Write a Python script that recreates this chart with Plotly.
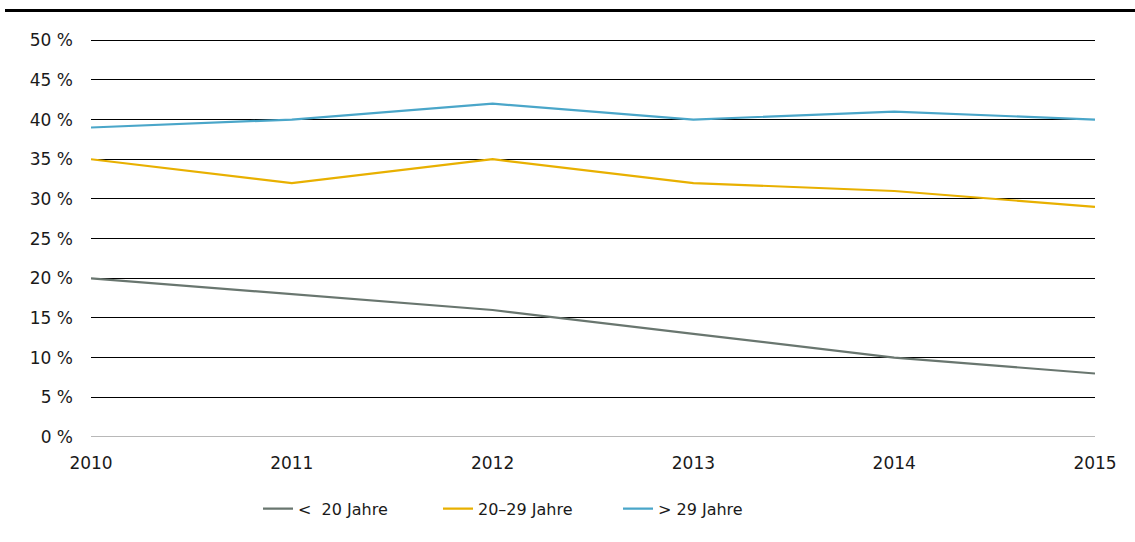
import plotly.graph_objects as go

years = [2010, 2011, 2012, 2013, 2014, 2015]
series_names = ["<  20 Jahre", "20–29 Jahre", "> 29 Jahre"]
under20 = [20, 18, 16, 13, 10, 8]
age20_29 = [35, 32, 35, 32, 31, 29]
over29 = [39, 40, 42, 40, 41, 40]
colors = ["#69766f", "#e8b000", "#4aa6c9"]
y_ticks = [0, 5, 10, 15, 20, 25, 30, 35, 40, 45, 50]
y_labels = [f"{v} %" for v in y_ticks]

fig = go.Figure()
for name, vals, col in zip(series_names, [under20, age20_29, over29], colors):
    fig.add_trace(go.Scatter(x=years, y=vals, name=name, mode="lines",
                             line=dict(color=col, width=2.2)))

L, R, T, B = 91, 40, 39, 105
W, H = 1135, 542
pw, ph = W - L - R, H - T - B

fig.update_layout(
    width=W, height=H,
    margin=dict(l=L, r=R, t=T, b=B),
    plot_bgcolor="white", paper_bgcolor="white",
    font=dict(family="DejaVu Sans, sans-serif", size=17, color="#1a1a1a"),
    showlegend=True,
    legend=dict(orientation="h", x=(258 - L) / pw, xanchor="left", y=-0.18, yanchor="middle",
                font=dict(size=16), entrywidth=135, entrywidthmode="pixels",
                tracegroupgap=0),
    xaxis=dict(range=[2010, 2015], tickvals=years, ticktext=[str(y) for y in years],
               showgrid=False, zeroline=False, showline=False, ticks="",
               ticklabelstandoff=14, fixedrange=True),
    yaxis=dict(range=[0, 50.15], tickvals=y_ticks, ticktext=y_labels,
               showgrid=True, gridcolor="#000000", gridwidth=1,
               zeroline=False, showline=False, ticks="", ticklabelstandoff=17,
               fixedrange=True),
    shapes=[
        dict(type="line", xref="paper", yref="paper",
             x0=(5 - L) / pw, x1=(W + 5 - L) / pw,
             y0=(H - B - 10.5) / ph, y1=(H - B - 10.5) / ph,
             line=dict(color="black", width=3)),
        dict(type="line", xref="paper", yref="y", x0=0, x1=1, y0=0, y1=0,
             line=dict(color="#a0a0a0", width=1.5), layer="below"),
    ],
)

fig.write_html("out.html", config={"displayModeBar": False},
               post_script="document.body.style.margin='0px';")
